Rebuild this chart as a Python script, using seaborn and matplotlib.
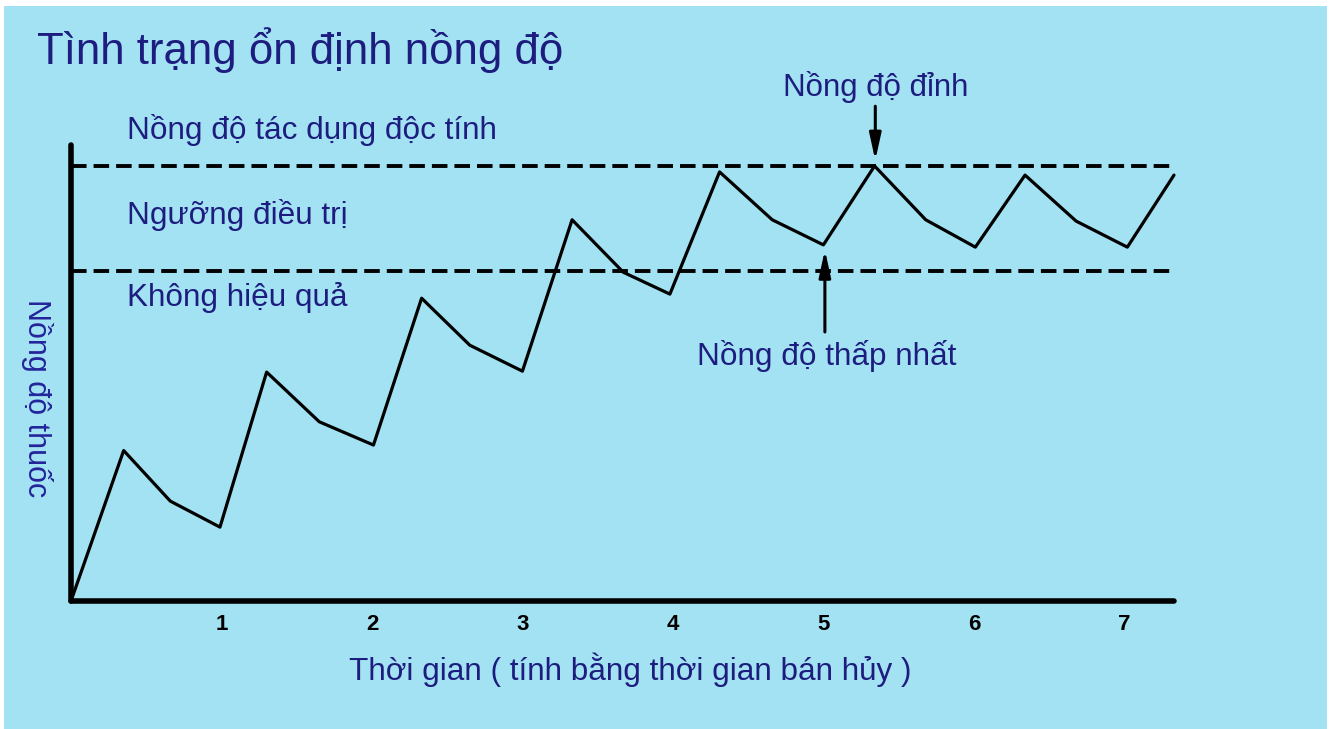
import matplotlib
matplotlib.use("Agg")
import matplotlib.pyplot as plt
from matplotlib import font_manager
from matplotlib.patches import Rectangle
import seaborn as sns
import pandas as pd

# thoi gian (so lan ban huy) va nong do thuoc (don vi tuong doi)
thoi_gian = [0.0, 0.35, 0.66, 0.99, 1.30, 1.65, 2.01, 2.33, 2.65, 3.00,
             3.33, 3.67, 3.98, 4.31, 4.66, 5.00, 5.34, 5.68, 6.01, 6.34,
             6.68, 7.02, 7.33]
nong_do = [0.0, 33.0, 21.9, 16.2, 50.2, 39.3, 34.2, 66.4, 56.1, 50.4,
           83.6, 72.1, 67.3, 94.1, 83.6, 78.1, 95.4, 83.6, 77.6, 93.4,
           83.3, 77.6, 93.4]
nguong_doc = 95.4      # Nồng độ tác dụng độc tính
nguong_hieu_qua = 72.4  # ngưỡng điều trị (dưới)
x_ticks = [1, 2, 3, 4, 5, 6, 7]

W, H = 1335, 729
sns.set_style("white")

names = {f.name for f in font_manager.fontManager.ttflist}
narrow = "Liberation Sans Narrow" if "Liberation Sans Narrow" in names else "Liberation Sans"
plt.rcParams['font.family'] = [narrow, 'DejaVu Sans']

navy = "#1d1d80"
bg = "#a3e2f2"

fig = plt.figure(figsize=(W / 100, H / 100), dpi=100)
fig.patch.set_facecolor("white")
fig.patches.append(Rectangle((4 / W, 0), (1327 - 4) / W, 1 - 6 / H,
                             transform=fig.transFigure, facecolor=bg,
                             edgecolor="none", zorder=-10))

ax = fig.add_axes([71 / W, 128 / H, 1103 / W, 456 / H])
ax.set_facecolor("none")

df = pd.DataFrame({"t": thoi_gian, "c": nong_do})
sns.lineplot(data=df, x="t", y="c", ax=ax, color="black", lw=2.3,
             sort=False, estimator=None, clip_on=False)

for y in [nguong_doc, nguong_hieu_qua]:
    ax.axhline(y, color="black", lw=2.8, linestyle=(0, (4, 1.8)))

ax.set_xlim(0, 7.33)
ax.set_ylim(0, 100)
ax.set_xticks(x_ticks)
ax.set_xticklabels([str(v) for v in x_ticks], fontweight="bold",
                   fontsize=16, color="black",
                   family=["Liberation Sans", "DejaVu Sans"])
ax.set_yticks([])
ax.tick_params(axis="x", length=0, pad=9)
ax.set_xlabel("")
ax.set_ylabel("")
for s in ["top", "right"]:
    ax.spines[s].set_visible(False)
for s in ["left", "bottom"]:
    ax.spines[s].set_linewidth(4)
    ax.spines[s].set_color("black")
    ax.spines[s].set_capstyle("round")


def px(x, y):
    return x / W, 1 - y / H


fig.text(*px(37, 50), "Tình trạng ổn định nồng độ", fontsize=31.5,
         color=navy, ha="left", va="center")
fig.text(*px(127, 130), "Nồng độ tác dụng độc tính", fontsize=22.7,
         color=navy, ha="left", va="center")
fig.text(*px(127, 215), "Ngưỡng điều trị", fontsize=22.7,
         color=navy, ha="left", va="center")
fig.text(*px(127, 297), "Không hiệu quả", fontsize=22.7,
         color=navy, ha="left", va="center")
fig.text(*px(876, 87), "Nồng độ đỉnh", fontsize=22.5,
         color=navy, ha="center", va="center")
fig.text(*px(827, 356), "Nồng độ thấp nhất", fontsize=22.7,
         color=navy, ha="center", va="center")
fig.text(*px(630, 670), "Thời gian ( tính bằng thời gian bán hủy )",
         fontsize=22.7, color=navy, ha="center", va="center")
fig.text(*px(37, 398), "Nồng độ thuốc", fontsize=22, color="#24249a",
         ha="center", va="center", rotation=270,
         family=["Liberation Sans", "DejaVu Sans"])

arrow = dict(arrowstyle="-|>,head_length=1.6,head_width=0.35",
             color="black", lw=2.2, shrinkA=0, shrinkB=0)
ax.annotate("", xy=(5.345, nguong_doc + 1.2), xytext=(5.345, 108.5),
            arrowprops=arrow, annotation_clip=False)
ax.annotate("", xy=(5.01, 77.0), xytext=(5.01, 59.0),
            arrowprops=arrow, annotation_clip=False)

fig.savefig("out.png", dpi=100, facecolor=fig.get_facecolor())
